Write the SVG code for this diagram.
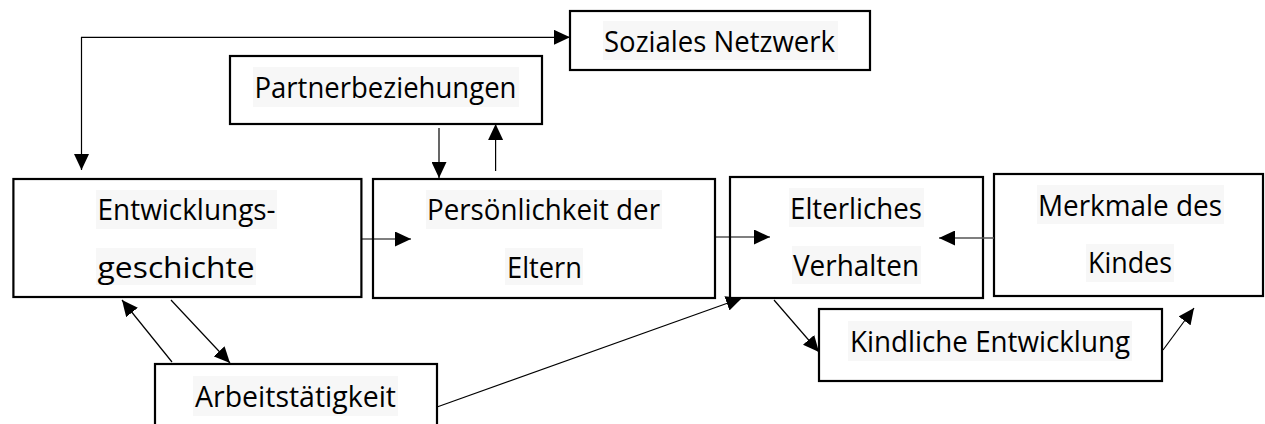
<svg xmlns="http://www.w3.org/2000/svg" width="1265" height="424" viewBox="0 0 1265 424">
  <style>
    .box { fill: #ffffff; stroke: #000000; stroke-width: 2.2; }
    .hl { fill: #f7f7f7; }
    .lbl { font-family: "Open Sans", "Noto Sans", "Liberation Sans", sans-serif; font-size: 30px; fill: #000000; }
    .edge { fill: none; stroke: #000000; stroke-width: 1.2; }
    .edge.grey { stroke: #555555; stroke-width: 1.6; }
  </style>
  <defs>
    <marker id="arrow" markerUnits="userSpaceOnUse" markerWidth="16" markerHeight="15" refX="16" refY="7.5" orient="auto-start-reverse">
      <path d="M0,0 L16,7.5 L0,15 z" fill="#000000"/>
    </marker>
  </defs>

  <g id="soziales-netzwerk">
    <rect class="box" x="570" y="11" width="300" height="59"/>
    <rect class="hl" x="603" y="21" width="235" height="39"/>
    <text class="lbl" x="604" y="52" textLength="231" lengthAdjust="spacingAndGlyphs">Soziales Netzwerk</text>
  </g>

  <g id="partnerbeziehungen">
    <rect class="box" x="230" y="56" width="312" height="68"/>
    <rect class="hl" x="253" y="67" width="266" height="40"/>
    <text class="lbl" x="254.5" y="98" textLength="262" lengthAdjust="spacingAndGlyphs">Partnerbeziehungen</text>
  </g>

  <g id="entwicklungsgeschichte">
    <rect class="box" x="13.4" y="179" width="348" height="118"/>
    <rect class="hl" x="96" y="190" width="181" height="39"/>
    <rect class="hl" x="96" y="248" width="160" height="37"/>
    <text class="lbl" x="97.6" y="220" textLength="178" lengthAdjust="spacingAndGlyphs">Entwicklungs-</text>
    <text class="lbl" x="97.6" y="278" textLength="157" lengthAdjust="spacingAndGlyphs">geschichte</text>
  </g>

  <g id="persoenlichkeit">
    <rect class="box" x="373" y="179" width="342" height="119"/>
    <rect class="hl" x="426" y="190" width="236" height="39"/>
    <rect class="hl" x="505" y="248" width="78" height="37"/>
    <text class="lbl" x="427" y="220" textLength="233" lengthAdjust="spacingAndGlyphs">Persönlichkeit der</text>
    <text class="lbl" x="507" y="278" textLength="75" lengthAdjust="spacingAndGlyphs">Eltern</text>
  </g>

  <g id="elterliches-verhalten">
    <rect class="box" x="730" y="177" width="253" height="121"/>
    <rect class="hl" x="789" y="188" width="135" height="39"/>
    <rect class="hl" x="792" y="246" width="129" height="38"/>
    <text class="lbl" x="790" y="219" textLength="132" lengthAdjust="spacingAndGlyphs">Elterliches</text>
    <text class="lbl" x="793" y="276" textLength="126" lengthAdjust="spacingAndGlyphs">Verhalten</text>
  </g>

  <g id="merkmale-des-kindes">
    <rect class="box" x="994" y="174" width="269" height="122"/>
    <rect class="hl" x="1037" y="185" width="187" height="39"/>
    <rect class="hl" x="1086" y="244" width="88" height="38"/>
    <text class="lbl" x="1038" y="216" textLength="184" lengthAdjust="spacingAndGlyphs">Merkmale des</text>
    <text class="lbl" x="1088" y="273" textLength="84" lengthAdjust="spacingAndGlyphs">Kindes</text>
  </g>

  <g id="kindliche-entwicklung">
    <rect class="box" x="819" y="309" width="343" height="72"/>
    <rect class="hl" x="848" y="321" width="284" height="40"/>
    <text class="lbl" x="850" y="352" textLength="280" lengthAdjust="spacingAndGlyphs">Kindliche Entwicklung</text>
  </g>

  <g id="arbeitstaetigkeit">
    <rect class="box" x="155" y="364" width="282" height="80"/>
    <rect class="hl" x="193" y="376" width="205" height="40"/>
    <text class="lbl" x="195" y="407" textLength="201" lengthAdjust="spacingAndGlyphs">Arbeitstätigkeit</text>
  </g>

  <!-- connectors on top so the arrowheads reach into the boxes -->
  <g id="connectors">
    <path class="edge" d="M81.5,170 V37.3 H570" marker-start="url(#arrow)" marker-end="url(#arrow)"/>
    <path class="edge" d="M439,128 V178" marker-end="url(#arrow)"/>
    <path class="edge" d="M495.6,171 V124" marker-end="url(#arrow)"/>
    <path class="edge" d="M361,239 H411" marker-end="url(#arrow)"/>
    <path class="edge" d="M715,237 H770" marker-end="url(#arrow)"/>
    <path class="edge grey" d="M994,238 H939" marker-end="url(#arrow)"/>
    <path class="edge" d="M172,362 L122,300" marker-end="url(#arrow)"/>
    <path class="edge" d="M171,300 L230,363" marker-end="url(#arrow)"/>
    <path class="edge" d="M437,407 L742,298" marker-end="url(#arrow)"/>
    <path class="edge" d="M774,300 L819,352" marker-end="url(#arrow)"/>
    <path class="edge" d="M1163,350 L1194,308" marker-end="url(#arrow)"/>
  </g>
</svg>
